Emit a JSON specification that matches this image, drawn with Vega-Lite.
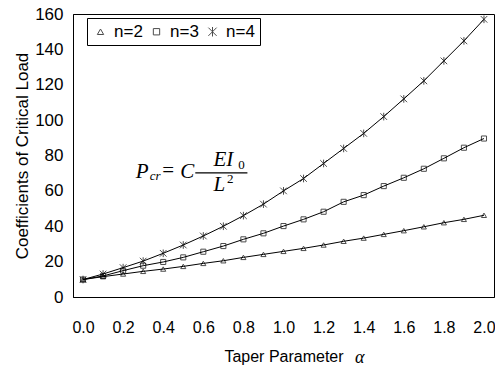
{
  "$schema": "https://vega.github.io/schema/vega-lite/v6.json",
  "autosize": "none",
  "padding": {"left": 73, "top": 14, "right": 1, "bottom": 79},
  "width": 421,
  "height": 283,
  "background": "white",
  "config": {
    "font": "Liberation Sans",
    "view": {"stroke": "black", "strokeWidth": 1},
    "axis": {"grid": false, "ticks": false, "domainColor": "black", "labelColor": "black", "titleColor": "black", "labelFont": "Liberation Sans", "titleFont": "Liberation Sans", "titleFontWeight": "normal", "labelOverlap": false}
  },
  "datasets": {
    "curves": [
      {"a": 0.0, "n": "n=2", "C": 9.87}, {"a": 0.1, "n": "n=2", "C": 11.5}, {"a": 0.2, "n": "n=2", "C": 13.0}, {"a": 0.3, "n": "n=2", "C": 14.5}, {"a": 0.4, "n": "n=2", "C": 15.8}, {"a": 0.5, "n": "n=2", "C": 17.3}, {"a": 0.6, "n": "n=2", "C": 19.0}, {"a": 0.7, "n": "n=2", "C": 20.5}, {"a": 0.8, "n": "n=2", "C": 22.4}, {"a": 0.9, "n": "n=2", "C": 24.1}, {"a": 1.0, "n": "n=2", "C": 25.8}, {"a": 1.1, "n": "n=2", "C": 27.5}, {"a": 1.2, "n": "n=2", "C": 29.4}, {"a": 1.3, "n": "n=2", "C": 31.5}, {"a": 1.4, "n": "n=2", "C": 33.3}, {"a": 1.5, "n": "n=2", "C": 35.4}, {"a": 1.6, "n": "n=2", "C": 37.5}, {"a": 1.7, "n": "n=2", "C": 39.7}, {"a": 1.8, "n": "n=2", "C": 42.0}, {"a": 1.9, "n": "n=2", "C": 43.9}, {"a": 2.0, "n": "n=2", "C": 46.2},
      {"a": 0.0, "n": "n=3", "C": 9.87}, {"a": 0.1, "n": "n=3", "C": 11.9}, {"a": 0.2, "n": "n=3", "C": 14.9}, {"a": 0.3, "n": "n=3", "C": 17.7}, {"a": 0.4, "n": "n=3", "C": 19.8}, {"a": 0.5, "n": "n=3", "C": 22.4}, {"a": 0.6, "n": "n=3", "C": 25.6}, {"a": 0.7, "n": "n=3", "C": 28.8}, {"a": 0.8, "n": "n=3", "C": 32.6}, {"a": 0.9, "n": "n=3", "C": 36.0}, {"a": 1.0, "n": "n=3", "C": 40.1}, {"a": 1.1, "n": "n=3", "C": 43.9}, {"a": 1.2, "n": "n=3", "C": 48.2}, {"a": 1.3, "n": "n=3", "C": 53.8}, {"a": 1.4, "n": "n=3", "C": 57.6}, {"a": 1.5, "n": "n=3", "C": 62.7}, {"a": 1.6, "n": "n=3", "C": 67.4}, {"a": 1.7, "n": "n=3", "C": 72.5}, {"a": 1.8, "n": "n=3", "C": 78.4}, {"a": 1.9, "n": "n=3", "C": 84.4}, {"a": 2.0, "n": "n=3", "C": 89.6},
      {"a": 0.0, "n": "n=4", "C": 9.87}, {"a": 0.1, "n": "n=4", "C": 13.0}, {"a": 0.2, "n": "n=4", "C": 16.6}, {"a": 0.3, "n": "n=4", "C": 20.3}, {"a": 0.4, "n": "n=4", "C": 24.7}, {"a": 0.5, "n": "n=4", "C": 29.4}, {"a": 0.6, "n": "n=4", "C": 34.5}, {"a": 0.7, "n": "n=4", "C": 40.0}, {"a": 0.8, "n": "n=4", "C": 46.0}, {"a": 0.9, "n": "n=4", "C": 52.5}, {"a": 1.0, "n": "n=4", "C": 60.0}, {"a": 1.1, "n": "n=4", "C": 67.0}, {"a": 1.2, "n": "n=4", "C": 75.5}, {"a": 1.3, "n": "n=4", "C": 84.0}, {"a": 1.4, "n": "n=4", "C": 92.5}, {"a": 1.5, "n": "n=4", "C": 102.0}, {"a": 1.6, "n": "n=4", "C": 112.0}, {"a": 1.7, "n": "n=4", "C": 122.2}, {"a": 1.8, "n": "n=4", "C": 133.5}, {"a": 1.9, "n": "n=4", "C": 144.8}, {"a": 2.0, "n": "n=4", "C": 157.0}
    ],
    "big": [
      {"label": "P", "a": 0.295, "C": 70.9},
      {"label": "C", "a": 0.52, "C": 70.9},
      {"label": "EI", "a": 0.7, "C": 77.6},
      {"label": "L", "a": 0.68, "C": 63.4}
    ],
    "smallItalic": [
      {"label": "cr", "a": 0.36, "C": 68.4}
    ],
    "smallUpright": [
      {"label": "0", "a": 0.79, "C": 74.8},
      {"label": "2", "a": 0.735, "C": 66.9}
    ],
    "eq": [{"label": "=", "a": 0.425, "C": 71.2}],
    "bar": [{"a": 0.56, "a2": 0.82, "C": 70.2}],
    "alpha": [{"label": "α", "a": 1.38, "C": -34.5}]
  },
  "encoding": {
    "x": {"field": "a", "type": "quantitative", "scale": {"domain": [-0.05, 2.05], "nice": false, "zero": false},
      "axis": {"values": [0, 0.2, 0.4, 0.6, 0.8, 1.0, 1.2, 1.4, 1.6, 1.8, 2.0], "format": ".1f", "labelFontSize": 16, "labelPadding": 22, "labelOverlap": false, "title": "Taper Parameter", "titleFontSize": 16, "titlePadding": 13}},
    "y": {"field": "C", "type": "quantitative", "scale": {"domain": [0, 160], "nice": false},
      "axis": {"values": [0, 20, 40, 60, 80, 100, 120, 140, 160], "labelFontSize": 17, "labelPadding": 10, "labelOverlap": false, "title": "Coefficients of Critical Load", "titleFontSize": 17, "titlePadding": 3}}
  },
  "layer": [
    {
      "data": {"name": "curves"},
      "mark": {"type": "line", "color": "black", "strokeWidth": 1},
      "encoding": {"detail": {"field": "n", "type": "nominal"}}
    },
    {
      "data": {"name": "curves"},
      "mark": {"type": "point", "filled": false, "color": "black", "strokeWidth": 1, "size": 26},
      "encoding": {
        "shape": {"field": "n", "type": "nominal",
          "scale": {"domain": ["n=2", "n=3", "n=4"], "range": ["triangle-up", "square", "M-1.3,-1.3L1.3,1.3M-1.3,1.3L1.3,-1.3M0,-1.5L0,1.5"]},
          "legend": {"title": null, "orient": "none", "legendX": 14, "legendY": 4, "direction": "horizontal", "labelFontSize": 17, "labelFont": "Liberation Sans", "labelColor": "black", "symbolSize": 40, "symbolStrokeWidth": 1, "strokeColor": "black", "padding": 5, "columnPadding": 5, "labelOffset": 5}}
      }
    },
    {
      "data": {"name": "big"},
      "mark": {"type": "text", "font": "Liberation Serif", "fontStyle": "italic", "fontSize": 21, "color": "black", "align": "center", "baseline": "middle"},
      "encoding": {"text": {"field": "label"}}
    },
    {
      "data": {"name": "smallItalic"},
      "mark": {"type": "text", "font": "Liberation Serif", "fontStyle": "italic", "fontSize": 13, "color": "black", "align": "center", "baseline": "middle"},
      "encoding": {"text": {"field": "label"}}
    },
    {
      "data": {"name": "smallUpright"},
      "mark": {"type": "text", "font": "Liberation Serif", "fontSize": 13, "color": "black", "align": "center", "baseline": "middle"},
      "encoding": {"text": {"field": "label"}}
    },
    {
      "data": {"name": "eq"},
      "mark": {"type": "text", "font": "Liberation Serif", "fontSize": 21, "color": "black", "align": "center", "baseline": "middle"},
      "encoding": {"text": {"field": "label"}}
    },
    {
      "data": {"name": "bar"},
      "mark": {"type": "rule", "color": "black", "strokeWidth": 1.2},
      "encoding": {"x2": {"field": "a2"}}
    },
    {
      "data": {"name": "alpha"},
      "mark": {"type": "text", "font": "Liberation Serif", "fontStyle": "italic", "fontSize": 18, "color": "black", "align": "center", "baseline": "middle", "clip": false},
      "encoding": {"text": {"field": "label"}}
    }
  ]
}
